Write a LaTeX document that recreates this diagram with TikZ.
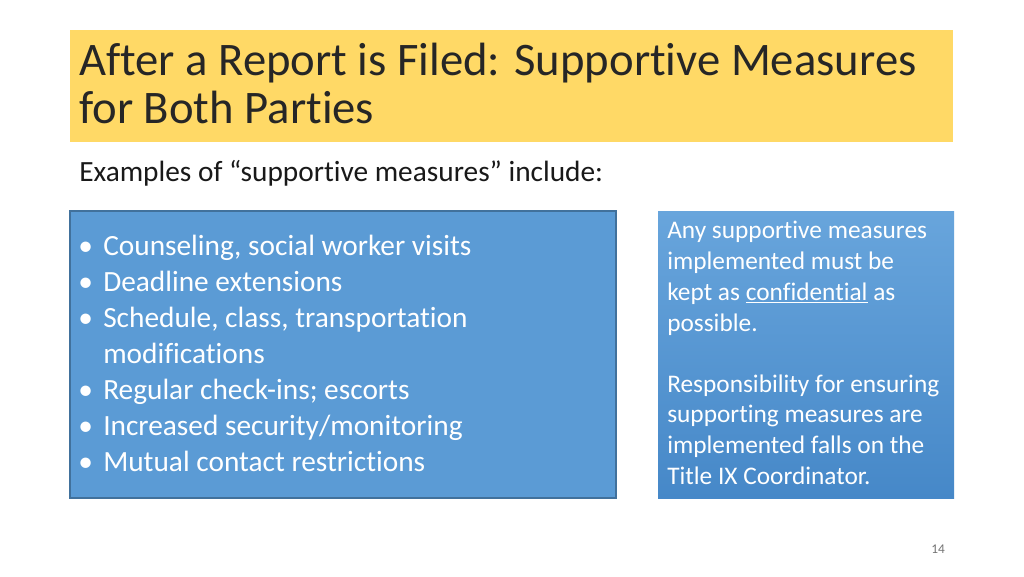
\documentclass[tikz,border=0pt]{standalone}
\usepackage{fontspec}
\setmainfont[Ligatures=CommonOff]{Carlito}
\definecolor{titleY}{RGB}{255,217,102}
\definecolor{boxB}{RGB}{91,155,213}
\definecolor{boxE}{RGB}{65,113,156}
\definecolor{boxTop}{RGB}{104,165,220}
\definecolor{boxBot}{RGB}{70,136,200}
\begin{document}
\begin{tikzpicture}[x=0.75pt,y=-0.75pt,
  ttl/.style={anchor=base west,inner sep=0,font=\fontsize{35}{40}\selectfont,text=black!85},
  sub/.style={anchor=base west,inner sep=0,font=\fontsize{22}{26}\selectfont,text=black!90},
  bl/.style={anchor=base west,inner sep=0,font=\fontsize{22}{26}\selectfont,text=white},
  rt/.style={anchor=base west,inner sep=0,font=\fontsize{19}{22}\selectfont,text=white}]
\useasboundingbox (0,0) rectangle (1024,576);
\fill[white] (0,0) rectangle (1024,576);
\fill[titleY] (70,30) rectangle (953,142);
\node[ttl] (t1) at (79,75) {After a Report is Filed: Supportive Measures};
\node[ttl] (t2) at (79,123) {for Both Parties};
\node[sub] (s) at (79,181) {Examples of “supportive measures” include:};
\draw[fill=boxB,draw=boxE,line width=1pt] (70,211) rectangle (616,498);
\shade[top color=boxTop,bottom color=boxBot] (658,211) rectangle (954,498);
\foreach \y/\t [count=\i] in {247/{Counseling, social worker visits},283/{Deadline extensions},319/{Schedule, class, transportation},391/{Regular check-ins; escorts},427/{Increased security/monitoring},463/{Mutual contact restrictions}}{
  \node[bl] (b\i) at (78,\y+8) {•};
  \node[bl] (l\i) at (103,\y+8) {\t};
}
\node[bl] (l0) at (103,363) {modifications};
\foreach \y/\t [count=\i] in {231/{Any supportive measures},262/{implemented must be},293/{kept as \underline{confidential} as},324/{possible.},385/{Responsibility for ensuring},415/{supporting measures are},446/{implemented falls on the},477/{Title IX Coordinator.}}{
  \node[rt] (r\i) at (667,\y+7) {\t};
}
\node[anchor=base,inner sep=0,font=\fontsize{10}{12}\selectfont,text=black!55] (p) at (938,553) {14};
\end{tikzpicture}
\end{document}
